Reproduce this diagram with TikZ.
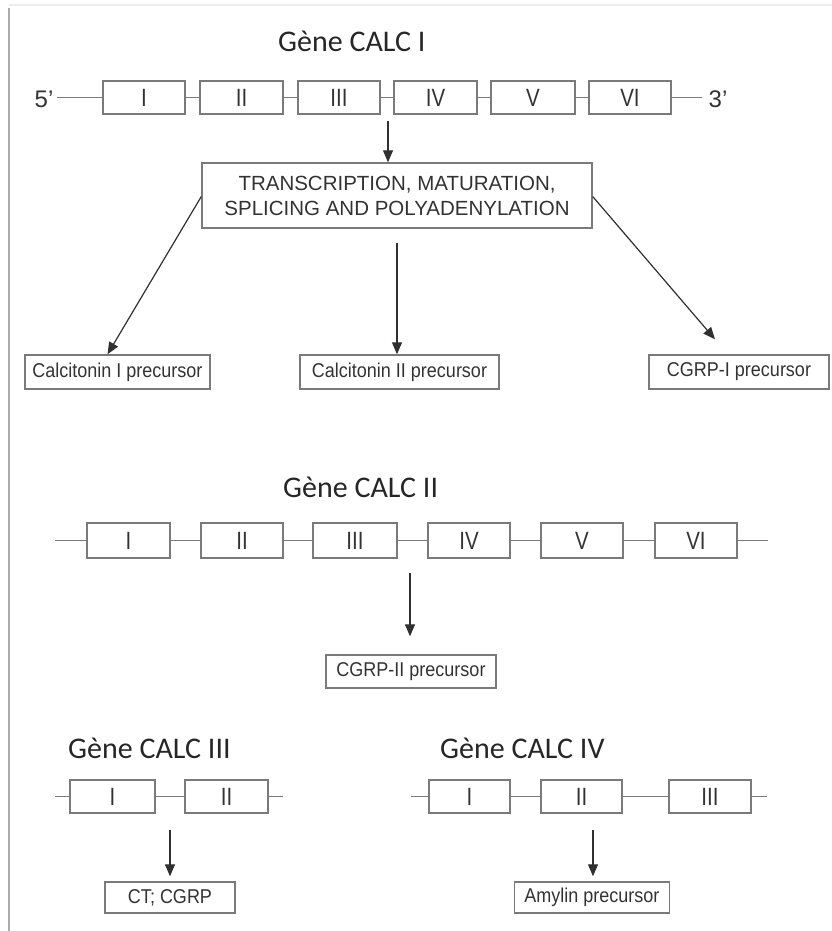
\documentclass[tikz,border=0pt]{standalone}
\usepackage{fontspec}
\setmainfont{Liberation Sans}
\newfontfamily\titlefont{Carlito}
\newfontfamily\narrowfont[FakeStretch=0.82]{Liberation Sans}
\newfontfamily\prodfont[FakeStretch=0.9]{Liberation Sans}
\usetikzlibrary{arrows.meta}
\definecolor{boxline}{HTML}{7A7A7A}
\definecolor{txt}{HTML}{333333}
\definecolor{arr}{HTML}{303030}
\tikzset{
  exon/.style={draw=boxline, line width=1.4pt, fill=white, inner sep=0pt, minimum height=33pt, text=txt, font=\narrowfont\fontsize{25}{27}\selectfont},
  prod/.style={draw=boxline, line width=1.4pt, fill=white, inner sep=0pt, minimum height=34pt, text=txt, font=\prodfont\fontsize{20}{22}\selectfont},
  dna/.style={draw=boxline, line width=1.4pt},
  arw/.style={draw=arr, line width=1.2pt, -{Triangle[length=12pt,width=10pt]}},
  gtitle/.style={anchor=base west, inner sep=0pt, text=black!85, font=\titlefont\fontsize{30}{32}\selectfont},
  endlab/.style={inner sep=0pt, text=txt, font=\fontsize{24}{26}\selectfont}
}
\begin{document}
\begin{tikzpicture}[x=1pt,y=-1pt]
\useasboundingbox (0,0) rectangle (832,931);
% page border
\draw[gray!15, line width=1.5pt] (9,5) -- (832,5);
\draw[gray!65, line width=1.6pt] (9,8) -- (9,931);

% ---------- CALC I ----------
\node[gtitle] (t1) at (278,52) {Gène CALC I};
\node[endlab] (p5) at (44,99) {5'};
\node[endlab] (p3) at (718,99) {3'};
\node[exon, minimum width=82pt] (a1) at (144,97.5) {I};
\node[exon, minimum width=83pt] (a2) at (241.5,97.5) {II};
\node[exon, minimum width=82pt] (a3) at (339,97.5) {III};
\node[exon, minimum width=83pt] (a4) at (435.5,97.5) {IV};
\node[exon, minimum width=84pt] (a5) at (533,97.5) {V};
\node[exon, minimum width=82pt] (a6) at (630,97.5) {VI};
\coordinate (a0) at (57,97.5);
\coordinate (a7) at (702,97.5);
\draw[dna] (a0) -- (a1.west) (a1.east) -- (a2.west) (a2.east) -- (a3.west) (a3.east) -- (a4.west) (a4.east) -- (a5.west) (a5.east) -- (a6.west) (a6.east) -- (a7);

\node[draw=boxline, line width=1.4pt, fill=white, minimum width=390pt, minimum height=65pt, inner sep=0pt, align=center, text=txt,
      font=\fontsize{20.5}{25}\selectfont] (tr) at (397,195.5)
  {TRANSCRIPTION, MATURATION,\\SPLICING AND POLYADENYLATION};
\coordinate (s1) at (388,121);
\draw[arw] (s1) -- (tr.north -| s1);

\node[prod, minimum width=185pt] (c1) at (117.5,372) {Calcitonin I precursor};
\node[prod, minimum width=199pt] (c2) at (399.5,372) {Calcitonin II precursor};
\node[prod, minimum width=180pt] (g1) at (739,372) {CGRP-I precursor};
\draw[arw] ([yshift=-1pt]tr.west) -- ([xshift=-10pt]c1.north);
\draw[arw, shorten <=14pt] (tr.south) -- (tr.south |- c2.north);
\draw[arw] ([yshift=-1pt]tr.east) -- ([xshift=-24pt,yshift=15pt]g1.north);

% ---------- CALC II ----------
\node[gtitle] (t2) at (283,497) {Gène CALC II};
\node[exon, minimum width=83pt, minimum height=35pt] (b1) at (128.5,540.5) {I};
\node[exon, minimum width=82pt, minimum height=35pt] (b2) at (242,540.5) {II};
\node[exon, minimum width=84pt, minimum height=35pt] (b3) at (355,540.5) {III};
\node[exon, minimum width=82pt, minimum height=35pt] (b4) at (469,540.5) {IV};
\node[exon, minimum width=82pt, minimum height=35pt] (b5) at (582,540.5) {V};
\node[exon, minimum width=82pt, minimum height=35pt] (b6) at (696,540.5) {VI};
\coordinate (b0) at (55,540.5);
\coordinate (b7) at (768,540.5);
\draw[dna] (b0) -- (b1.west) (b1.east) -- (b2.west) (b2.east) -- (b3.west) (b3.east) -- (b4.west) (b4.east) -- (b5.west) (b5.east) -- (b6.west) (b6.east) -- (b7);

\node[prod, minimum width=170pt, minimum height=33pt] (g2) at (411,671.5) {CGRP-II precursor};
\coordinate (s2) at (410,573);
\draw[arw] (s2) -- ([yshift=18pt]g2.north -| s2);

% ---------- CALC III ----------
\node[gtitle] (t3) at (68,758) {Gène CALC III};
\node[exon, minimum width=85pt] (d1) at (112.5,796.5) {I};
\node[exon, minimum width=83pt] (d2) at (226.5,796.5) {II};
\coordinate (d0) at (55,796.5);
\coordinate (d3) at (283,796.5);
\draw[dna] (d0) -- (d1.west) (d1.east) -- (d2.west) (d2.east) -- (d3);
\node[prod, minimum width=130pt, minimum height=31pt] (ct) at (170,897.5) {CT; CGRP};
\coordinate (s3) at (170,830);
\draw[arw] (s3) -- ([yshift=5pt]ct.north);

% ---------- CALC IV ----------
\node[gtitle] (t4) at (440,758) {Gène CALC IV};
\node[exon, minimum width=81pt] (e1) at (469.5,796.5) {I};
\node[exon, minimum width=81pt] (e2) at (581.5,796.5) {II};
\node[exon, minimum width=82pt] (e3) at (710,796.5) {III};
\coordinate (e0) at (411,796.5);
\coordinate (e4) at (767,796.5);
\draw[dna] (e0) -- (e1.west) (e1.east) -- (e2.west) (e2.east) -- (e3.west) (e3.east) -- (e4);
\node[prod, minimum width=155pt, minimum height=31pt] (am) at (592,897.5) {Amylin precursor};
\coordinate (s4) at (593,830);
\draw[arw] (s4) -- ([yshift=5pt]am.north -| s4);
\end{tikzpicture}
\end{document}
